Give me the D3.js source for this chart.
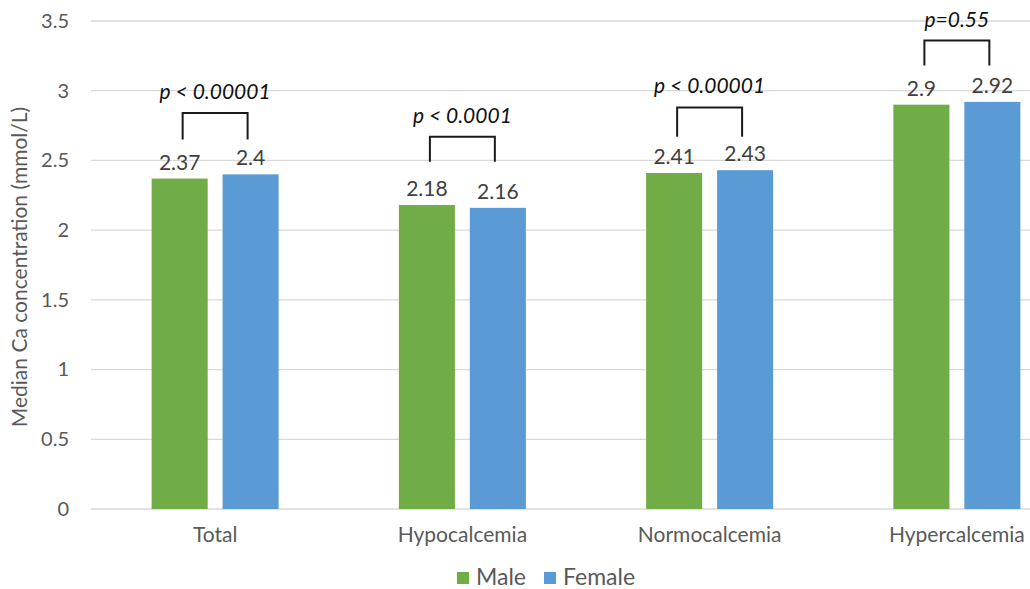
<!DOCTYPE html>
<html>
<head>
<meta charset="utf-8">
<script src="https://cdn.jsdelivr.net/npm/d3@7"></script>
<style>
  body { margin: 0; background: #fff; }
  svg text { font-family: Lato, "Open Sans", sans-serif; }
</style>
</head>
<body>
<div id="chart"></div>
<script>
var categories = ["Total", "Hypocalcemia", "Normocalcemia", "Hypercalcemia"];
var series = ["Male", "Female"];
var maleValues = [2.37, 2.18, 2.41, 2.9];
var femaleValues = [2.4, 2.16, 2.43, 2.92];
var yTicks = [0, 0.5, 1, 1.5, 2, 2.5, 3, 3.5];
var pLabels = ["p < 0.00001", "p < 0.0001", "p < 0.00001", "p=0.55"];
var bracketTop = [2.84, 2.67, 2.88, 3.36];
var bracketFoot = [2.65, 2.49, 2.67, 3.18];

var svgWidth = 1030;
var svgHeight = 589;
var colors = { Male: "#70ad47", Female: "#5b9bd5" };

var svg = d3.select("#chart")
  .append("svg")
  .attr("width", svgWidth)
  .attr("height", svgHeight);

var y = d3.scaleLinear()
  .domain([0, 3.5])
  .range([509, 21]);

var x = d3.scaleBand()
  .domain(categories)
  .range([91.5, 1080.5]);

var bw = x.bandwidth();
var xSub = d3.scaleBand()
  .domain(series)
  .range([bw / 2 - 63.5, bw / 2 + 63.5])
  .paddingInner(0.21);

// gridlines
svg.append("g")
  .selectAll("line")
  .data(yTicks)
  .enter()
  .append("line")
  .attr("x1", 91)
  .attr("x2", svgWidth)
  .attr("y1", d => y(d))
  .attr("y2", d => y(d))
  .attr("stroke", "#d9d9d9")
  .attr("stroke-width", 1.3);

// y axis labels
var leftAxis = d3.axisLeft(y).tickValues(yTicks).tickFormat(d => String(d)).tickSize(0).tickPadding(0);
var yAxis = svg.append("g")
  .attr("transform", "translate(69, 0)")
  .call(leftAxis);
yAxis.select(".domain").remove();
yAxis.selectAll("text")
  .attr("font-size", 20)
  .attr("fill", "#595959")
  .style("font-family", "Lato, sans-serif");

// x axis labels
var bottomAxis = d3.axisBottom(x).tickSize(0).tickPadding(0);
var xAxis = svg.append("g")
  .attr("transform", "translate(0, 527)")
  .call(bottomAxis);
xAxis.select(".domain").remove();
xAxis.selectAll("text")
  .attr("font-size", 21)
  .attr("fill", "#595959")
  .style("font-family", "Lato, sans-serif");

// bars
var rows = categories.map((c, i) => ({ cat: c, Male: maleValues[i], Female: femaleValues[i] }));

var groups = svg.selectAll(".grp")
  .data(rows)
  .enter()
  .append("g")
  .attr("class", "grp")
  .attr("transform", d => `translate(${x(d.cat)}, 0)`);

groups.selectAll("rect")
  .data(d => series.map(s => ({ s: s, v: d[s] })))
  .enter()
  .append("rect")
  .attr("x", d => xSub(d.s))
  .attr("width", xSub.bandwidth())
  .attr("y", d => y(d.v))
  .attr("height", d => y(0) - y(d.v))
  .attr("fill", d => colors[d.s]);

groups.selectAll(".val")
  .data(d => series.map(s => ({ s: s, v: d[s] })))
  .enter()
  .append("text")
  .attr("class", "val")
  .attr("x", d => xSub(d.s) + xSub.bandwidth() / 2)
  .attr("y", d => y(d.v) - 9)
  .attr("text-anchor", "middle")
  .attr("font-size", 21)
  .attr("fill", "#404040")
  .text(d => d.v);

// significance brackets
groups.each(function(d, i) {
  var g = d3.select(this);
  var xl = xSub("Male") + xSub.bandwidth() / 2 + 3;
  var xr = xSub("Female") + xSub.bandwidth() / 2 - 3;
  var path = d3.path();
  path.moveTo(xl, y(bracketFoot[i]));
  path.lineTo(xl, y(bracketTop[i]));
  path.lineTo(xr, y(bracketTop[i]));
  path.lineTo(xr, y(bracketFoot[i]));
  g.append("path")
    .attr("d", path.toString())
    .attr("fill", "none")
    .attr("stroke", "#1a1a1a")
    .attr("stroke-width", 2);
  g.append("text")
    .attr("x", bw / 2)
    .attr("y", y(bracketTop[i]) - 14)
    .attr("text-anchor", "middle")
    .attr("font-size", 21)
    .attr("font-style", "italic")
    .attr("fill", "#111")
    .text(pLabels[i]);
});

// y axis title
svg.append("text")
  .attr("transform", "translate(27, 267) rotate(-90)")
  .attr("text-anchor", "middle")
  .attr("font-size", 21)
  .attr("fill", "#595959")
  .text("Median Ca concentration (mmol/L)");

// legend
var legend = svg.append("g").attr("transform", "translate(457, 0)");
var legendX = [0, 87];
series.forEach(function(s, i) {
  legend.append("rect")
    .attr("x", legendX[i])
    .attr("y", 572)
    .attr("width", 12)
    .attr("height", 12)
    .attr("fill", colors[s]);
  legend.append("text")
    .attr("x", legendX[i] + 19)
    .attr("y", 585)
    .attr("font-size", 23)
    .attr("fill", "#595959")
    .text(s);
});
</script>
</body>
</html>
